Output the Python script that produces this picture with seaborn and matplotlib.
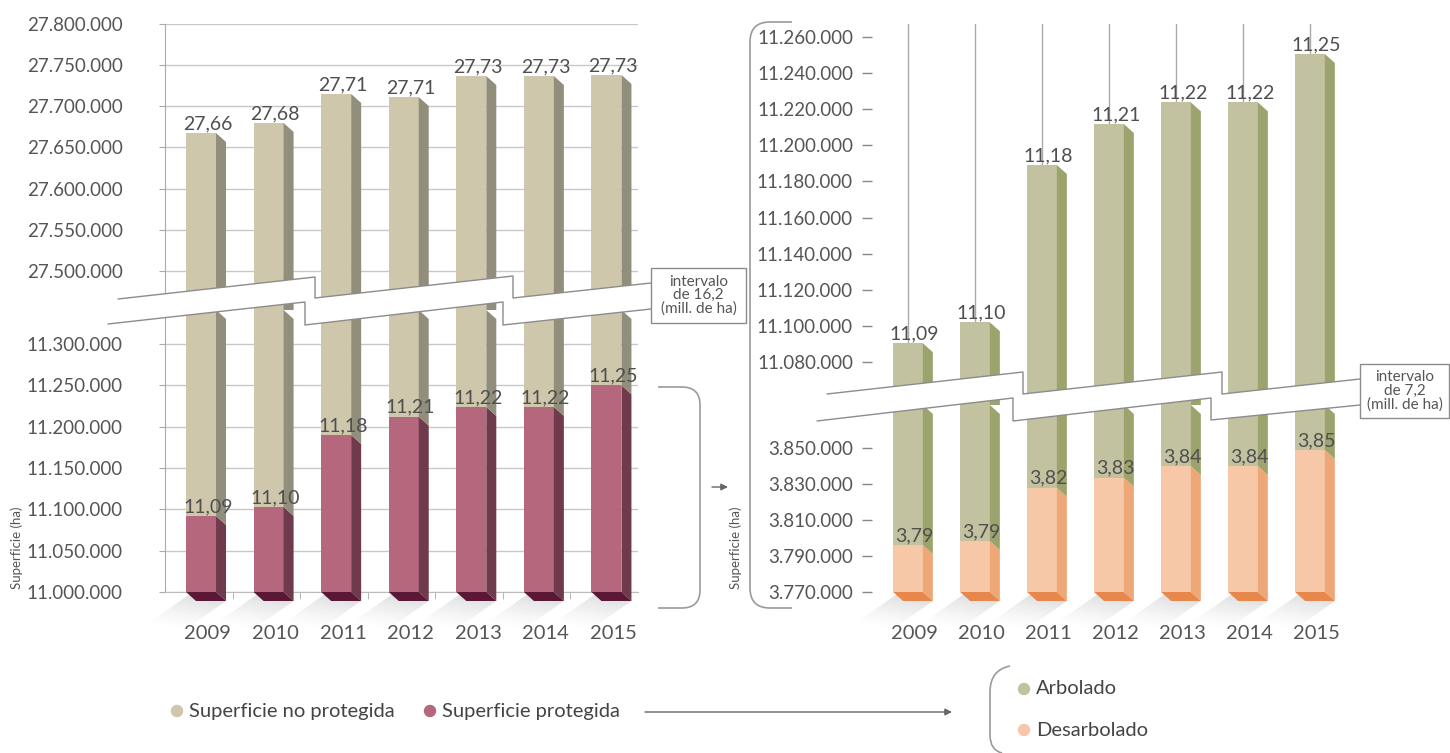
import numpy as np
import pandas as pd
import seaborn as sns
import matplotlib.pyplot as plt
from matplotlib.patches import Polygon, Rectangle, Circle, PathPatch
from matplotlib.path import Path

# ---------------- DATA ----------------
years = ["2009", "2010", "2011", "2012", "2013", "2014", "2015"]

# superficie total (no protegida + protegida), ha
sup_total = [27667600, 27679800, 27715000, 27711300, 27736800, 27736800, 27738100]
sup_total_lbl = ["27,66", "27,68", "27,71", "27,71", "27,73", "27,73", "27,73"]
# superficie protegida, ha
sup_protegida = [11091900, 11102800, 11189900, 11212100, 11223800, 11223800, 11250000]
sup_protegida_lbl = ["11,09", "11,10", "11,18", "11,21", "11,22", "11,22", "11,25"]
# superficie protegida: total (arbolado encima) y desarbolado, ha
arbolado = [11090400, 11102000, 11189100, 11211800, 11223800, 11223800, 11250600]
arbolado_lbl = ["11,09", "11,10", "11,18", "11,21", "11,22", "11,22", "11,25"]
desarbolado = [3796100, 3798300, 3827900, 3833500, 3840000, 3840000, 3848900]
desarbolado_lbl = ["3,79", "3,79", "3,82", "3,83", "3,84", "3,84", "3,85"]

ticks_izq_arriba = list(range(27500000, 27800001, 50000))
ticks_izq_abajo = list(range(11000000, 11300001, 50000))
ticks_der_arriba = list(range(11080000, 11260001, 20000))
ticks_der_abajo = list(range(3770000, 3850001, 20000))

# colours
c_noprot, s_noprot = "#CEC7AB", "#928E7C"
c_prot, s_prot, f_prot = "#B5677E", "#6F3A4C", "#5A1836"
c_arb, s_arb = "#C2C2A0", "#9CA36C"
c_desarb, s_desarb, f_desarb = "#F6C8A8", "#EEA776", "#E8874B"
txt = "#555555"

sns.set_style("white")
plt.rcParams["font.family"] = ["Lato", "DejaVu Sans"]

W, H = 1450, 753
fig = plt.figure(figsize=(W / 100, H / 100), dpi=100)

BW = 0.444      # bar front width (category units)
DX, DY = 10, 9  # 3D depth in pixels


def px_axes(x0, y0, x1, y1):
    return fig.add_axes([x0 / W, 1 - y1 / H, (x1 - x0) / W, (y1 - y0) / H])


def fmt(v):
    return f"{v:,}".replace(",", ".")


def barras(ax, capas, xlim, ylim, floor=None):
    # capas: list of (tops, front, side) from bottom to top
    for vals, front, side in reversed(capas):
        sns.barplot(x=years, y=vals, color=front, width=BW, saturation=1,
                    linewidth=0, ax=ax, zorder=3)
    ax.set_xlim(*xlim)
    ax.set_ylim(*ylim)
    ax.set_xlabel("")
    ax.set_ylabel("")
    ymin, ymax = ylim
    pos = ax.get_position()
    ppx = pos.width * W / (xlim[1] - xlim[0])
    ppy = pos.height * H / (ymax - ymin)
    dx, dy = DX / ppx, DY / ppy
    for i in range(len(years)):
        xl, xr = i - BW / 2, i + BW / 2
        lo = ymin
        for vals, front, side in capas:
            hi = min(vals[i], ymax)
            if hi > lo:
                ax.add_patch(Polygon([(xr, hi), (xr + dx, hi - dy), (xr + dx, lo - dy), (xr, lo)],
                                     fc=side, ec="none", zorder=3, clip_on=False))
            lo = max(lo, hi)
        if floor:
            ax.add_patch(Polygon([(xl, ymin), (xr, ymin), (xr + dx, ymin - dy), (xl + dx, ymin - dy)],
                                 fc=floor, ec="none", zorder=4, clip_on=False))
            # shadow
            p0 = np.array([xl + dx * 0.3, ymin - dy * 0.3])
            p1 = np.array([xr + dx, ymin - dy])
            v = np.array([-40 / ppx, -28 / ppy])
            n = 12
            for k in range(n):
                t0, t1 = k / n, (k + 1) / n
                quad = [p0 + t0 * v, p1 + t0 * v, p1 + t1 * v, p0 + t1 * v]
                ax.add_patch(Polygon(quad, fc="#9A9CA0", ec="none", alpha=0.30 * (1 - t0) ** 1.4,
                                     zorder=2, clip_on=False))
    return ppy


def etiquetas(ax, vals, lbls, ppy):
    for i, (v, t) in enumerate(zip(vals, lbls)):
        ax.text(i + 0.1, v + 1 / ppy, t, ha="center", va="bottom", fontsize=14,
                color="#4F4F4F", zorder=6)


# ---------------- LEFT PANEL ----------------
xl_izq = (-0.533, 6.467)
ax_lt = px_axes(165, 24, 638, 310)
ax_lb = px_axes(165, 310, 638, 592)

capas_izq = [(sup_protegida, c_prot, s_prot), (sup_total, c_noprot, s_noprot)]
ppy = barras(ax_lt, [(sup_total, c_noprot, s_noprot)], xl_izq, (27452600, 27800000))
etiquetas(ax_lt, sup_total, sup_total_lbl, ppy)
ppy = barras(ax_lb, capas_izq, xl_izq, (11000000, 11341100), floor=f_prot)
etiquetas(ax_lb, sup_protegida, sup_protegida_lbl, ppy)

for ax, tk in ((ax_lt, ticks_izq_arriba), (ax_lb, ticks_izq_abajo)):
    ax.set_yticks(tk, [fmt(t) for t in tk])
    ax.yaxis.grid(True, color="#C8C8C8", lw=1)
    ax.set_axisbelow(True)
    for s in ("top", "right", "bottom"):
        ax.spines[s].set_visible(False)
    ax.spines["left"].set_color("#AAAAAA")
    ax.tick_params(axis="y", left=True, length=4.3, color="#AAAAAA", pad=26,
                   labelsize=13.5, labelcolor=txt)
ax_lt.set_xticks([])
ax_lb.spines["bottom"].set_visible(True)
ax_lb.spines["bottom"].set_color("#BBBBBB")
ax_lb.set_xticks([i + 0.1 for i in range(len(years))], years)
ax_lb.set_xticks([i + 0.467 for i in range(len(years) - 1)], minor=True)
ax_lb.tick_params(axis="x", which="major", length=0, pad=24, labelsize=14.5, labelcolor=txt)
ax_lb.tick_params(axis="x", which="minor", bottom=True, length=5, color="#AAAAAA")

# ---------------- RIGHT PANEL ----------------
xl_der = (-0.537, 6.463)
ax_rt = px_axes(872, 24, 1341, 405)
ax_rb = px_axes(872, 405, 1341, 592)

for i in range(len(years)):
    ax_rt.axvline(i, color="#AAAAAA", lw=1, zorder=1)
ppy = barras(ax_rt, [(arbolado, c_arb, s_arb)], xl_der, (11056200, 11267200))
etiquetas(ax_rt, arbolado, arbolado_lbl, ppy)
ppy = barras(ax_rb, [(desarbolado, c_desarb, s_desarb), (arbolado, c_arb, s_arb)],
             xl_der, (3770000, 3873900), floor=f_desarb)
etiquetas(ax_rb, desarbolado, desarbolado_lbl, ppy)

for ax, tk in ((ax_rt, ticks_der_arriba), (ax_rb, ticks_der_abajo)):
    ax.set_yticks(tk, [fmt(t) for t in tk])
    sns.despine(ax=ax, left=True, bottom=True)
    ax.tick_params(axis="y", left=True, length=7.2, width=1, color="#888888", pad=6.5,
                   labelsize=13.5, labelcolor=txt)
ax_rt.set_xticks([])
ax_rb.set_xticks([i + 0.1 for i in range(len(years))], years)
ax_rb.tick_params(axis="x", length=0, pad=24, labelsize=14.5, labelcolor=txt)

# ---------------- OVERLAY (breaks, brackets, legend) ----------------
ov = fig.add_axes([0, 0, 1, 1], zorder=10)
ov.set_xlim(0, W)
ov.set_ylim(H, 0)
ov.axis("off")
line_c = "#8C8C8C"


def corte(upper, lower, box, texto):
    ov.add_patch(Polygon(upper + lower[::-1], closed=True, fc="white", ec="none"))
    for ln in (upper, lower):
        xs, ys = zip(*ln)
        ov.plot(xs, ys, color=line_c, lw=1)
    x0, y0, x1, y1 = box
    ov.add_patch(Rectangle((x0, y0), x1 - x0, y1 - y0, fc="white", ec=line_c, lw=1))
    ov.text((x0 + x1) / 2, (y0 + y1) / 2, texto, ha="center", va="center", fontsize=11,
            color=txt, linespacing=0.95)


corte([(118, 299), (315, 277), (315, 298), (513, 276), (513, 298), (651, 283)],
      [(108, 324), (305, 302), (305, 325), (503, 302), (503, 325), (651, 309)],
      (651, 268, 746, 323), "intervalo\nde 16,2\n(mill. de ha)")
corte([(827, 394), (1023, 372), (1023, 394), (1222, 372), (1222, 394), (1360, 379)],
      [(817, 421), (1013, 398), (1013, 421), (1211, 398), (1211, 420), (1360, 405)],
      (1360, 364, 1449, 418), "intervalo\nde 7,2\n(mill. de ha)")

M, L, C = Path.MOVETO, Path.LINETO, Path.CURVE3


def trazo(verts, codes):
    ov.add_patch(PathPatch(Path(verts, codes), fc="none", ec="#9A9A9A", lw=1.2))


trazo([(658, 387), (682, 387), (700, 387), (700, 405), (700, 590), (700, 608), (682, 608), (658, 608)],
      [M, L, C, C, L, C, C, L])
trazo([(792, 22), (770, 22), (750, 22), (750, 42), (750, 588), (750, 608), (770, 608), (792, 608)],
      [M, L, C, C, L, C, C, L])
trazo([(1010, 666), (990, 670), (990, 692), (990, 735), (990, 750), (1002, 753)],
      [M, C, C, L, C, C])

arrow = dict(arrowstyle="-|>", color="#666666", lw=1, mutation_scale=10, shrinkA=0, shrinkB=0)
ov.annotate("", xy=(952, 712), xytext=(645, 712), arrowprops=arrow)
ov.annotate("", xy=(728, 487), xytext=(712, 487), arrowprops=arrow)

ov.text(17, 548, "Superficie (ha)", rotation=90, ha="center", va="center", fontsize=9.5, color=txt)
ov.text(736, 548, "Superficie (ha)", rotation=90, ha="center", va="center", fontsize=9.5, color=txt)

leyenda = [((177, 711), c_noprot, "Superficie no protegida"),
           ((430, 711), c_prot, "Superficie protegida"),
           ((1024, 689), c_arb, "Arbolado"),
           ((1024, 730), c_desarb, "Desarbolado")]
for (x, y), col, lab in leyenda:
    ov.add_patch(Circle((x, y), 5.5, color=col))
    ov.text(x + 12, y, lab, ha="left", va="center", fontsize=14.5, color="#444444")

plt.savefig("out.png", dpi=100)
